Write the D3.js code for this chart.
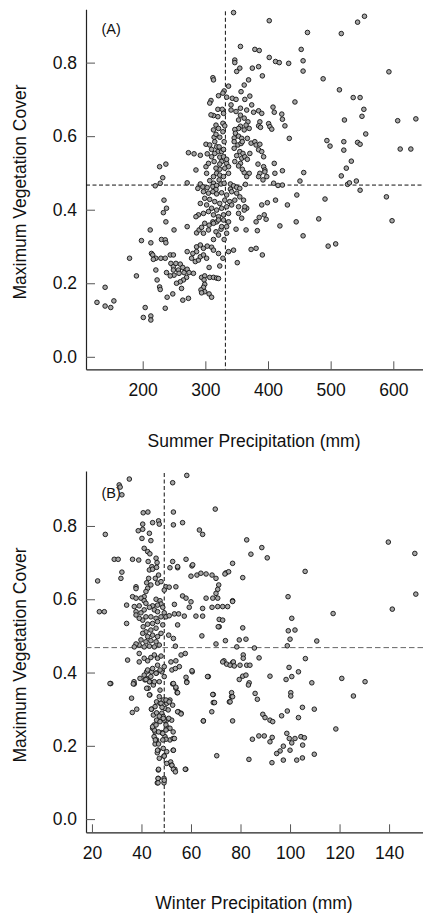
<!DOCTYPE html>
<html><head><meta charset="utf-8">
<script src="https://cdn.jsdelivr.net/npm/d3@7"></script>
<style>
html,body{margin:0;padding:0;background:#fff;}
svg{display:block;}
text{font-family:"Liberation Sans",Arial,sans-serif;fill:#111;}
</style></head>
<body>
<script>
// ---------------- DATA ----------------
const yTicks = [0, 0.2, 0.4, 0.6, 0.8];
const summerTicks = [200, 300, 400, 500, 600];
const winterTicks = [20, 40, 60, 80, 100, 120, 140];
const summerRef = {x: 332, y: 0.467};
const winterRef = {x: 49.2, y: 0.468};
const yLabel = "Maximum Vegetation Cover";
const summerLabel = "Summer Precipitation (mm)";
const winterLabel = "Winter Precipitation (mm)";

// Panel A: [summer precipitation (mm), maximum vegetation cover]
const summerPoints = [
[463,0.882],[517,0.879],[543,0.910],[554,0.926],[453,0.836],[456,0.805],[456,0.777],
[488,0.756],[593,0.775],[514,0.726],[536,0.705],[547,0.705],[443,0.693],[553,0.673],[550,0.654],[522,0.644],[607,0.642],[636,0.647],
[556,0.606],[494,0.588],[499,0.573],[521,0.585],[521,0.562],[543,0.583],[547,0.578],[611,0.565],[628,0.565],[533,0.532],[525,0.513],
[517,0.492],[527,0.469],[530,0.473],[541,0.478],[547,0.453],[451,0.478],[457,0.501],
[345,0.936],[402,0.914],[356,0.844],[379,0.836],[386,0.833],[402,0.814],[412,0.803],[418,0.800],[433,0.798],[347,0.807],[347,0.800],
[350,0.776],[355,0.785],[375,0.785],[385,0.789],[391,0.764],[369,0.753],[362,0.739],[357,0.721],[337,0.736],
[312,0.759],[313,0.753],[330,0.723],[328,0.717],[309,0.697],[307,0.690],[321,0.710],[334,0.706],[343,0.703],[349,0.700],
[371,0.709],[363,0.700],[374,0.685],[366,0.671],[356,0.676],[349,0.667],[341,0.671],[341,0.685],
[320,0.673],[327,0.673],[329,0.662],[320,0.653],[313,0.656],[309,0.658],
[377,0.665],[385,0.669],[390,0.662],[387,0.639],[385,0.628],[388,0.624],[401,0.634],[403,0.626],[406,0.619],
[408,0.679],[410,0.665],[422,0.660],[423,0.646],[427,0.628],[434,0.594],
[356,0.657],[362,0.649],[353,0.644],[368,0.639],[365,0.630],[356,0.627],[370,0.621],[362,0.617],[353,0.621],[347,0.618],[348,0.608],
[346,0.595],[353,0.600],[358,0.594],[346,0.585],[352,0.576],[357,0.580],[359,0.585],[367,0.594],[373,0.581],[379,0.585],[381,0.576],[387,0.578],[385,0.563],
[346,0.567],[355,0.558],[360,0.553],[350,0.547],[358,0.540],[347,0.531],[356,0.526],[353,0.519],[363,0.544],[367,0.537],[371,0.553],
[390,0.558],[393,0.544],[384,0.524],[393,0.517],[395,0.508],[387,0.499],[385,0.490],[370,0.499],[366,0.490],[362,0.501],[359,0.510],
[410,0.526],[411,0.499],[423,0.506],[395,0.503],[398,0.490],[392,0.481],[409,0.472],[416,0.466],[423,0.467],[364,0.469],
[273,0.555],[282,0.552],[292,0.548],[285,0.508],[271,0.473],[292,0.470],
[301,0.578],[307,0.576],[314,0.597],[317,0.605],[323,0.597],[315,0.585],[318,0.571],[322,0.571],[320,0.558],[326,0.558],[315,0.553],
[323,0.543],[326,0.531],[314,0.531],[323,0.524],[334,0.526],[337,0.517],[331,0.513],[323,0.510],[317,0.513],[318,0.499],[323,0.494],
[329,0.490],[337,0.499],[313,0.490],[322,0.481],[307,0.479],[313,0.472],[302,0.499],[301,0.517],[305,0.526],[310,0.544],[303,0.552],
[310,0.564],[329,0.544],[334,0.537],[330,0.585],[329,0.564],[328,0.635],[331,0.628],[328,0.612],[317,0.630],[321,0.621],[313,0.617],
[296,0.462],[288,0.458],[303,0.460],[312,0.463],[318,0.466],[325,0.470],[330,0.472],[340,0.470],[345,0.465],[350,0.461],[355,0.458],[317,0.455],[340,0.456],
[234,0.426],[238,0.404],[233,0.392],[237,0.367],[250,0.345],[230,0.319],[236,0.318],[237,0.310],[214,0.281],[216,0.277],[221,0.268],[229,0.268],[236,0.268],[244,0.277],[249,0.277],
[245,0.254],[249,0.245],[253,0.254],[260,0.252],[264,0.243],[257,0.236],[249,0.236],[250,0.222],[258,0.227],[266,0.229],[271,0.238],[274,0.229],[281,0.227],
[270,0.216],[265,0.209],[260,0.204],[254,0.200],[262,0.186],[244,0.220],[238,0.229],[221,0.236],[223,0.209],[227,0.190],[228,0.183],[239,0.162],[248,0.171],
[264,0.154],[273,0.159],[236,0.132],
[278,0.268],[284,0.259],[289,0.263],[292,0.272],[297,0.277],[302,0.268],
[294,0.216],[299,0.220],[298,0.209],[299,0.197],[297,0.189],[293,0.182],[299,0.177],[306,0.171],[310,0.162],[307,0.216],[313,0.216],[318,0.214],[321,0.213],[294,0.174],
[286,0.299],[292,0.304],[297,0.295],[303,0.301],[310,0.298],[313,0.290],[321,0.281],[328,0.268],[323,0.247],[306,0.243],[286,0.286],[280,0.281],[271,0.286],[271,0.354],
[286,0.337],[290,0.345],[294,0.352],[297,0.336],[305,0.345],[306,0.358],[299,0.363],[312,0.367],[318,0.367],[317,0.340],[321,0.331],[325,0.347],[334,0.336],[330,0.319],
[337,0.286],[345,0.290],[351,0.256],[313,0.319],
[373,0.292],[381,0.295],[391,0.277],[349,0.347],[365,0.345],[383,0.343],[381,0.367],[386,0.379],[394,0.386],[397,0.374],
[390,0.413],[399,0.419],[412,0.426],[431,0.413],[419,0.356],[353,0.390],[358,0.377],[366,0.404],[362,0.399],
[297,0.449],[305,0.445],[312,0.449],[318,0.443],[326,0.446],[334,0.440],[342,0.449],[350,0.445],[355,0.435],[347,0.426],[339,0.422],[331,0.426],
[323,0.417],[315,0.422],[307,0.428],[299,0.431],[292,0.417],[302,0.413],[310,0.404],[318,0.399],[326,0.404],[334,0.408],[342,0.413],[337,0.390],
[329,0.386],[321,0.381],[313,0.386],[305,0.395],[297,0.390],[289,0.386],[285,0.381],[313,0.363],[321,0.372],[329,0.372],[337,0.367],[334,0.354],[326,0.354],
[363,0.408],[353,0.408],[361,0.426],
[446,0.440],[491,0.429],[589,0.435],[598,0.370],[445,0.367],[481,0.375],[456,0.329],[496,0.301],[508,0.307],
[220,0.465],[228,0.472],[232,0.487],[227,0.517],[237,0.524],
[127,0.148],[140,0.189],[140,0.138],[149,0.134],[154,0.152],[179,0.268],[190,0.220],[198,0.316],[201,0.107],[204,0.134],[213,0.111],[213,0.100],
[212,0.345],[213,0.310],[217,0.265]
];

// Panel B: [winter precipitation (mm), maximum vegetation cover]
const winterPoints = [
[35.1,0.928],[31.0,0.912],[31.4,0.906],[32.1,0.885],[58.3,0.938],[52.6,0.918],
[40.7,0.836],[42.6,0.838],[52.9,0.838],[69.8,0.846],
[40.5,0.805],[44.5,0.809],[46.9,0.814],[47.2,0.805],[52.9,0.803],[56.6,0.809],
[38.7,0.787],[40.5,0.791],[43.2,0.780],[43.8,0.760],[40.2,0.766],[25.4,0.777],[63.4,0.789],[64.7,0.777],
[41.1,0.739],[42.5,0.730],[43.4,0.724],[29.0,0.709],[30.6,0.709],[36.4,0.709],[38.9,0.707],
[42.7,0.703],[45.9,0.712],[46.3,0.700],[44.2,0.689],[52.6,0.703],[54.6,0.686],[58.0,0.709],[60.4,0.691],
[32.1,0.674],[31.7,0.657],[22.3,0.650],
[43.2,0.680],[44.5,0.682],[46.1,0.687],[46.9,0.666],[45.6,0.657],[42.9,0.657],[42.1,0.645],[43.8,0.639],[46.5,0.644],[47.9,0.648],
[49.9,0.634],[49.2,0.625],[51.2,0.633],[53.9,0.634],[37.8,0.634],[37.8,0.629],[42.5,0.630],[41.8,0.621],[41.1,0.607],
[51.5,0.686],[54.6,0.689],[60.7,0.694],
[60.0,0.663],[62.4,0.666],[64.0,0.671],[66.1,0.669],[68.5,0.666],[70.1,0.657],[71.2,0.639],[70.8,0.627],[70.1,0.616],
[74.1,0.672],[76.8,0.698],[75.2,0.675],
[36.4,0.607],[37.8,0.603],[39.8,0.603],[41.1,0.596],[45.9,0.600],[47.5,0.596],[47.9,0.587],[46.5,0.584],[44.5,0.582],[41.8,0.589],
[39.1,0.582],[37.1,0.580],[37.8,0.566],[39.8,0.563],[41.1,0.571],[43.2,0.578],[45.2,0.571],[46.5,0.566],[48.6,0.578],[49.2,0.563],
[49.9,0.552],[47.9,0.552],[45.9,0.548],[43.8,0.552],[41.8,0.552],[40.5,0.543],[39.1,0.548],[37.8,0.557],
[40.7,0.525],[42.5,0.532],[44.5,0.534],[46.5,0.539],[48.6,0.530],[45.9,0.521],[43.8,0.516],[41.8,0.511],[40.5,0.507],
[42.5,0.498],[44.5,0.502],[46.5,0.498],[47.9,0.507],[39.8,0.489],[41.8,0.484],[43.8,0.487],[45.9,0.484],
[47.2,0.475],[45.2,0.470],[43.2,0.472],[41.1,0.470],[39.1,0.475],[37.8,0.478],[37.1,0.470],
[23.0,0.566],[25.0,0.566],[34.0,0.584],[34.0,0.534],
[53.3,0.586],[51.2,0.555],[53.3,0.560],[55.0,0.560],[57.3,0.554],[54.6,0.530],[52.9,0.493],[53.7,0.472],[51.0,0.502],
[56.6,0.609],[58.0,0.603],[60.0,0.593],[59.3,0.578],[62.0,0.554],[64.7,0.575],[64.7,0.554],[64.4,0.500],
[68.8,0.603],[70.8,0.603],[68.5,0.578],[70.8,0.580],[72.8,0.580],[74.8,0.580],[76.8,0.596],
[71.4,0.545],[72.8,0.543],[71.4,0.525],[70.1,0.478],[73.9,0.487],[66.1,0.603],
[82.5,0.762],[88.6,0.741],[84.2,0.723],[90.8,0.713],[106.1,0.676],[139.7,0.756],[150.4,0.725],[150.8,0.614],[141.3,0.573],[117.4,0.561],
[99.2,0.607],[100.7,0.548],[99.3,0.514],[102.0,0.516],[100.0,0.491],[98.9,0.473],[110.8,0.486],[106.2,0.438],
[99.6,0.414],[103.4,0.402],[91.9,0.390],[80.9,0.659],[73.7,0.669],[76.8,0.594],[71.0,0.525],
[80.9,0.522],[79.5,0.489],[82.2,0.491],[78.5,0.470],[85.6,0.467],[87.5,0.440],[81.1,0.448],[81.1,0.439],
[76.8,0.427],[73.3,0.432],[74.4,0.423],[79.8,0.420],[82.5,0.420],[83.8,0.420],[67.0,0.389],
[79.5,0.381],[80.9,0.390],[82.2,0.393],[83.5,0.372],[83.2,0.366],[98.4,0.381],[100.7,0.389],[108.8,0.372],[120.9,0.384],[130.3,0.375],
[69.0,0.340],[69.0,0.318],[68.4,0.293],[65.0,0.268],[76.4,0.345],[76.4,0.334],[75.5,0.320],[76.8,0.268],
[85.9,0.343],[86.8,0.327],[100.3,0.345],[100.3,0.336],[125.6,0.336],
[105.0,0.305],[109.8,0.300],[103.4,0.277],[98.9,0.295],[96.6,0.282],[89.0,0.286],[89.9,0.277],[91.9,0.270],[93.0,0.266],[118.5,0.246],
[84.8,0.218],[87.4,0.227],[89.6,0.227],[91.9,0.211],[92.8,0.223],[98.7,0.234],[99.7,0.220],[100.7,0.208],[102.0,0.220],[104.4,0.225],
[105.8,0.222],[105.1,0.202],[100.0,0.188],[97.3,0.199],[96.0,0.186],[94.6,0.179],[92.7,0.154],[97.3,0.161],[102.7,0.161],[105.0,0.167],
[109.8,0.177],[83.4,0.163],[70.4,0.173],
[27.6,0.370],[36.0,0.330],[36.3,0.291],[38.1,0.300],[37.0,0.375],[37.1,0.369],
[42.1,0.384],[43.4,0.375],[42.7,0.357],[44.8,0.366],
[43.4,0.339],[44.1,0.300],[44.8,0.284],[46.1,0.270],[45.1,0.257],[44.5,0.248],[45.5,0.238],[45.1,0.225],[46.1,0.216],[45.5,0.205],
[46.8,0.188],[46.4,0.181],[47.2,0.166],[46.8,0.134],[46.8,0.111],[46.4,0.099],[49.1,0.111],[49.1,0.099],
[45.5,0.307],[46.1,0.320],[47.5,0.316],[48.8,0.325],[50.2,0.316],[49.5,0.302],[50.8,0.298],[48.2,0.289],[48.8,0.280],[50.2,0.270],
[49.9,0.257],[50.8,0.248],[48.2,0.236],[49.5,0.225],[51.5,0.216],[48.8,0.193],[50.2,0.184],[52.8,0.188],[52.8,0.220],
[51.8,0.156],[52.2,0.147],[53.5,0.136],[49.1,0.172],[57.9,0.136],[52.8,0.238],[52.2,0.270],[51.5,0.325],
[52.6,0.369],[53.9,0.357],[54.4,0.345],[54.9,0.293],[56.0,0.289],[58.0,0.387],[58.3,0.375],[60.5,0.402],
[42.1,0.402],[44.1,0.402],[46.1,0.399],[48.2,0.402],[39.4,0.384],[41.4,0.380],
[34.4,0.434],[39.1,0.452],[39.1,0.429],[41.1,0.439],[42.5,0.432],[43.8,0.441],[45.2,0.448],[46.5,0.439],[47.9,0.445],
[46.5,0.420],[44.5,0.411],[42.5,0.407],[41.1,0.393],[43.8,0.389],[45.9,0.398],[47.5,0.407],[49.2,0.416],[49.2,0.389],
[47.2,0.375],[45.2,0.375],[43.2,0.375],[41.8,0.381],[51.9,0.429],[53.9,0.432],[56.0,0.448],[57.7,0.452],
[52.3,0.407],[53.7,0.411],[55.3,0.416],[60.4,0.405],[58.3,0.373],[66.7,0.389],[72.8,0.429],[75.8,0.420],[77.1,0.429],[77.5,0.418],
[27.3,0.370],[36.7,0.369],[42.1,0.357],[43.2,0.339],[47.5,0.352],[52.9,0.370],[53.9,0.360],[54.6,0.345],
[68.8,0.340],[69.5,0.318],[65.0,0.268],[75.8,0.320],[76.8,0.334],
[49.9,0.325],[51.2,0.320],[52.6,0.311],[54.6,0.293],[56.0,0.287],[51.0,0.275],[53.3,0.220],[52.9,0.188],[49.2,0.172],[50.2,0.152],
[52.3,0.147],[52.9,0.136],[53.7,0.129],[57.7,0.136],[46.9,0.136],[46.7,0.111],[46.7,0.099],[49.2,0.106],
[44.0,0.300],[47.2,0.334],[47.9,0.316],[48.3,0.305],[46.1,0.290],[47.2,0.281],[47.5,0.266],[49.2,0.270],[51.5,0.248],[49.9,0.243],
[48.6,0.234],[46.9,0.238],[45.2,0.243],[44.5,0.252],[45.9,0.257],[45.6,0.216],[46.9,0.205],[46.5,0.188],[49.9,0.218],[48.8,0.275],[48.6,0.216]
];

// ---------------- DRAW ----------------
const W = 423, H = 913;
const svg = d3.select("body").append("svg").attr("width", W).attr("height", H);

function panel(cfg) {
  const x = d3.scaleLinear().domain(cfg.xDomain).range([86, 423]);
  const y = d3.scaleLinear().domain(cfg.yDomain).range([cfg.bottom, cfg.top]);
  const g = svg.append("g");

  // axes
  const ax = g.append("g").attr("transform", `translate(0,${cfg.bottom})`)
    .call(d3.axisBottom(x).tickValues(cfg.xTicks).tickSizeInner(-8).tickSizeOuter(0).tickPadding(14).tickFormat(d3.format("d")));
  const ay = g.append("g").attr("transform", `translate(86,0)`)
    .call(d3.axisLeft(y).tickValues(yTicks).tickSizeInner(-9).tickSizeOuter(0).tickPadding(9).tickFormat(d3.format(".1f")));
  [ax, ay].forEach(a => {
    a.select(".domain").attr("stroke", "#222").attr("stroke-width", 1.2);
    a.selectAll(".tick line").attr("stroke", "#555").attr("stroke-width", 1);
    a.selectAll(".tick text").attr("font-size", "17.5px").attr("font-family", '"Liberation Sans", Arial, sans-serif').attr("fill", "#111");
  });

  // reference lines
  g.append("line")
    .attr("x1", x(cfg.ref.x)).attr("x2", x(cfg.ref.x))
    .attr("y1", cfg.top + 2).attr("y2", cfg.bottom)
    .attr("stroke", "#111").attr("stroke-width", 1).attr("stroke-dasharray", "4,2.5");
  g.append("line")
    .attr("x1", 86).attr("x2", 423)
    .attr("y1", y(cfg.ref.y)).attr("y2", y(cfg.ref.y))
    .attr("stroke", cfg.hColor).attr("stroke-width", 1).attr("stroke-dasharray", cfg.hDash);

  // panel label
  g.append("text").attr("x", 101.5).attr("y", cfg.labelY).attr("font-size", "14.5px").text(cfg.label);

  // points
  g.append("g").selectAll("circle").data(cfg.points).join("circle")
    .attr("cx", d => x(d[0])).attr("cy", d => y(d[1])).attr("r", 2.3)
    .attr("fill", "#a6a6a6").attr("stroke", "#111").attr("stroke-width", 0.9);

  // titles
  g.append("text").attr("x", 254).attr("y", cfg.xTitleY).attr("text-anchor", "middle")
    .attr("font-size", "17.5px").text(cfg.xTitle);
  g.append("text").attr("transform", `translate(26,${cfg.yTitleC}) rotate(-90)`).attr("text-anchor", "middle")
    .attr("font-size", "17.5px").text(yLabel);
}

panel({
  points: summerPoints, xDomain: [109.5, 647.4], yDomain: [-0.034, 0.945],
  top: 9.3, bottom: 369.3, xTicks: summerTicks, ref: summerRef,
  hColor: "#111", hDash: "4,2.5", label: "(A)", labelY: 34,
  xTitle: summerLabel, xTitleY: 446.5, yTitleC: 192
});
panel({
  points: winterPoints, xDomain: [17.6, 153.7], yDomain: [-0.036, 0.950],
  top: 471, bottom: 832.3, xTicks: winterTicks, ref: winterRef,
  hColor: "#666", hDash: "5.5,3", label: "(B)", labelY: 497.5,
  xTitle: winterLabel, xTitleY: 909, yTitleC: 655
});
</script>
</body></html>
